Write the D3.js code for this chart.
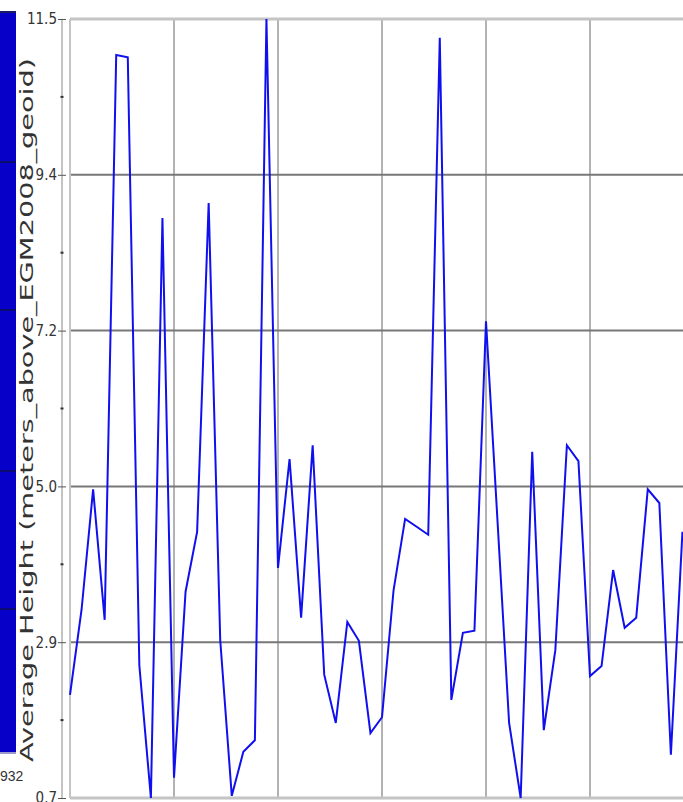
<!DOCTYPE html>
<html>
<head>
<meta charset="utf-8">
<script src="https://cdn.jsdelivr.net/npm/d3@7"></script>
<style>
  body { margin: 0; background: #fff; }
  svg { display: block; }
  .tick text { font-family: "Liberation Sans Narrow", "DejaVu Sans Condensed", sans-serif; }
</style>
</head>
<body>
<div id="chart"></div>
<script>
// average height per sample (meters above EGM2008 geoid)
let heights = [2.13, 3.31, 4.98, 3.17, 11.00, 10.97, 2.54, 0.70, 8.74, 0.98,
  3.56, 4.39, 8.95, 2.89, 0.73, 1.34, 1.50, 11.50, 3.89, 5.40,
  3.20, 5.59, 2.41, 1.74, 3.14, 2.88, 1.60, 1.82, 3.58, 4.57,
  4.46, 4.35, 11.24, 2.06, 2.99, 3.02, 7.31, 4.53, 1.74, 0.70,
  5.50, 1.64, 2.75, 5.59, 5.37, 2.39, 2.53, 3.86, 3.06, 3.20,
  4.98, 4.79, 1.30, 4.39];

let yTickValues = [0.7, 2.86, 5.02, 7.18, 9.34, 11.5];
let yTickLabels = ["0.7", "2.9", "5.0", "7.2", "9.4", "11.5"];
let xGridValues = [9, 18, 27, 36, 45, 54];

// legend strip on the far left (segment breaks)
let stripBreaks = [162, 310, 471, 609];
let stripLabel = "932";

let svgWidth = 683;
let svgHeight = 802;

let margin = { top: 19, left: 70, bottom: 4 };
let plotBottom = svgHeight - margin.bottom;

let svg = d3.select("#chart")
  .append("svg")
  .attr("width", svgWidth)
  .attr("height", svgHeight);

let xScale = d3.scaleLinear()
  .domain([0, 54])
  .range([margin.left, margin.left + 54 * 104 / 9]);

let yScale = d3.scaleLinear()
  .domain([0.7, 11.5])
  .range([plotBottom, margin.top]);

// blue strip
svg.append("rect")
  .attr("x", 0).attr("y", 12)
  .attr("width", 16).attr("height", 740)
  .attr("fill", "#0600c8");
svg.append("line")
  .attr("x1", 0).attr("x2", 16).attr("y1", 12).attr("y2", 12)
  .attr("stroke", "#1a1a66").attr("stroke-width", 2);
svg.selectAll(".strip-break")
  .data(stripBreaks)
  .enter()
  .append("line")
  .attr("x1", 0).attr("x2", 16)
  .attr("y1", d => d).attr("y2", d => d)
  .attr("stroke", "#0c0c70").attr("stroke-width", 2);
svg.append("line")
  .attr("x1", 0).attr("x2", 16).attr("y1", 753).attr("y2", 753)
  .attr("stroke", "#9a9acc").attr("stroke-width", 2);
svg.append("text")
  .attr("x", 0).attr("y", 781)
  .attr("font-family", "Liberation Sans Narrow, sans-serif")
  .attr("font-size", "14px")
  .attr("fill", "#333")
  .text(stripLabel);

// grid
svg.selectAll(".vgrid")
  .data(xGridValues)
  .enter()
  .append("line")
  .attr("x1", d => xScale(d)).attr("x2", d => xScale(d))
  .attr("y1", margin.top).attr("y2", plotBottom)
  .attr("stroke", "#9a9a9a").attr("stroke-width", 1.5);

svg.selectAll(".hgrid")
  .data(yTickValues.slice(1, -1))
  .enter()
  .append("line")
  .attr("x1", margin.left).attr("x2", svgWidth)
  .attr("y1", d => yScale(d)).attr("y2", d => yScale(d))
  .attr("stroke", "#777").attr("stroke-width", 2);

// plot frame
svg.append("line")
  .attr("x1", margin.left).attr("x2", svgWidth)
  .attr("y1", margin.top).attr("y2", margin.top)
  .attr("stroke", "#c4c4c4").attr("stroke-width", 3);
svg.append("line")
  .attr("x1", margin.left).attr("x2", svgWidth)
  .attr("y1", plotBottom).attr("y2", plotBottom)
  .attr("stroke", "#c4c4c4").attr("stroke-width", 3);
svg.append("line")
  .attr("x1", margin.left).attr("x2", margin.left)
  .attr("y1", margin.top).attr("y2", plotBottom)
  .attr("stroke", "#c4c4c4").attr("stroke-width", 2);

// y axis
let yAxis = d3.axisLeft(yScale)
  .tickValues(yTickValues)
  .tickFormat((d, i) => yTickLabels[i])
  .tickSize(4)
  .tickPadding(1);

let yAxisG = svg.append("g")
  .attr("transform", "translate(62,0)")
  .call(yAxis);
yAxisG.select(".domain").attr("stroke", "#888").attr("d", `M0,${margin.top}V${plotBottom}`);
yAxisG.selectAll(".tick line").attr("stroke", "#555").attr("x2", 4).attr("x1", -4);
yAxisG.selectAll(".tick text")
  .attr("font-size", "15px")
  .attr("fill", "#333");

// minor ticks
let minorTicks = d3.pairs(yTickValues).map(p => (p[0] + p[1]) / 2);
yAxisG.selectAll(".minor")
  .data(minorTicks)
  .enter()
  .append("line")
  .attr("x1", -1.5).attr("x2", 1.5)
  .attr("y1", d => yScale(d)).attr("y2", d => yScale(d))
  .attr("stroke", "#333").attr("stroke-width", 2);

// y label
svg.append("text")
  .attr("transform", `translate(33,${(58 + 762) / 2}) rotate(-90)`)
  .attr("text-anchor", "middle")
  .attr("font-family", "DejaVu Sans, sans-serif")
  .attr("font-size", "17px")
  .attr("fill", "#333")
  .attr("textLength", 704)
  .attr("lengthAdjust", "spacingAndGlyphs")
  .text("Average Height (meters_above_EGM2008_geoid)");

// data line
let line = d3.line()
  .x((d, i) => xScale(i))
  .y(d => yScale(d));

svg.append("path")
  .datum(heights)
  .attr("d", line)
  .attr("fill", "none")
  .attr("stroke", "#1010ee")
  .attr("stroke-width", 2);
</script>
</body>
</html>
